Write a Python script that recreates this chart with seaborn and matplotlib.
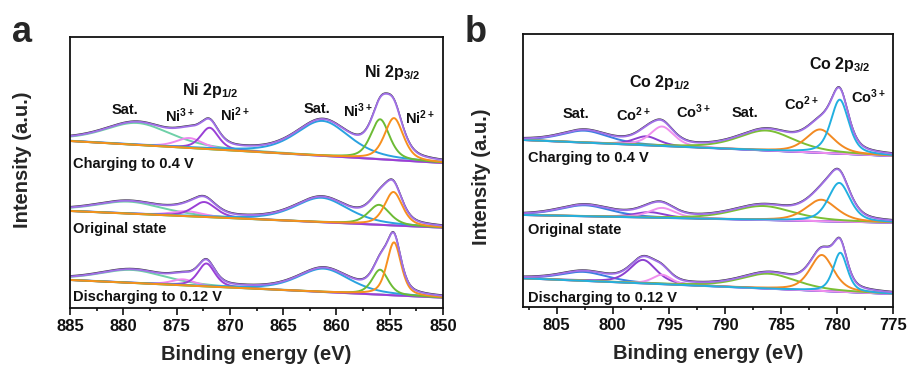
import numpy as np
import pandas as pd
import matplotlib
matplotlib.use("Agg")
import matplotlib.pyplot as plt
import seaborn as sns
from matplotlib.ticker import MultipleLocator

# ------------------------------------------------------------------ data
states = ["Charging to 0.4 V", "Original state", "Discharging to 0.12 V"]

# Ni 2p fit components (values per state: charging, original, discharging)
ni_names = ["Sat1", "Ni3+_12", "Ni2+_12", "Sat2", "Ni3+_32", "Ni2+_32"]
ni_center = {
    "Sat1":    [878.7, 879.5, 879.2],
    "Ni3+_12": [873.8, 874.0, 874.4],
    "Ni2+_12": [871.9, 872.4, 872.2],
    "Sat2":    [861.3, 861.4, 861.2],
    "Ni3+_32": [855.9, 856.0, 855.9],
    "Ni2+_32": [854.6, 854.65, 854.6],
}
ni_height = {
    "Sat1":    [22.0, 12.0, 13.0],
    "Ni3+_12": [10.0, 5.0, 6.0],
    "Ni2+_12": [21.5, 15.0, 23.0],
    "Sat2":    [35.0, 24.5, 23.4],
    "Ni3+_32": [40.0, 20.0, 25.0],
    "Ni2+_32": [42.0, 33.5, 53.0],
}
ni_fwhm = {
    "Sat1":    [7.5, 7.5, 7.5],
    "Ni3+_12": [3.0, 3.5, 2.6],
    "Ni2+_12": [2.0, 2.6, 1.9],
    "Sat2":    [6.0, 6.0, 5.8],
    "Ni3+_32": [2.1, 2.4, 1.8],
    "Ni2+_32": [2.1, 2.0, 1.6],
}
ni_bg_left = [167.0, 97.0, 28.0]    # background at 885 eV
ni_bg_right = [145.0, 80.3, 10.3]   # background at 850 eV

# Co 2p fit components
co_names = ["Sat1", "Co2+_12", "Co3+_12", "Sat2", "Co2+_32", "Co3+_32"]
co_center = {
    "Sat1":    [802.5, 802.5, 802.6],
    "Co2+_12": [797.0, 796.7, 797.3],
    "Co3+_12": [795.6, 795.6, 795.6],
    "Sat2":    [786.3, 786.6, 786.1],
    "Co2+_32": [781.5, 781.4, 781.35],
    "Co3+_32": [779.75, 779.8, 779.7],
}
co_height = {
    "Sat1":    [12.0, 11.0, 9.0],
    "Co2+_12": [9.0, 5.5, 23.5],
    "Co3+_12": [19.5, 10.0, 9.5],
    "Sat2":    [20.0, 14.0, 15.0],
    "Co2+_32": [23.4, 21.5, 36.0],
    "Co3+_32": [54.0, 38.7, 39.0],
}
co_fwhm = {
    "Sat1":    [5.0, 5.5, 5.0],
    "Co2+_12": [2.7, 3.3, 2.8],
    "Co3+_12": [2.5, 2.8, 2.0],
    "Sat2":    [6.0, 6.5, 6.0],
    "Co2+_32": [3.0, 3.3, 2.5],
    "Co3+_32": [1.9, 2.3, 1.5],
}
co_bg_left = [167.0, 92.0, 28.7]    # background at 808 eV
co_bg_right = [151.0, 84.3, 13.0]   # background at 775 eV

ni_ticks = [885, 880, 875, 870, 865, 860, 855, 850]
co_ticks = [805, 800, 795, 790, 785, 780, 775]

# ------------------------------------------------------------------ style
ni_colors = {"Sat1": "#6fd0a8", "Ni3+_12": "#ee88ee", "Ni2+_12": "#9a3fd6",
             "Sat2": "#2aa2e0", "Ni3+_32": "#6cbb35", "Ni2+_32": "#f7901e"}
ni_bg_color = "#6fd6c6"
co_colors = {"Sat1": "#3b7fe0", "Co2+_12": "#8c40d0", "Co3+_12": "#f090ee",
             "Sat2": "#7bbf35", "Co2+_32": "#f28a22", "Co3+_32": "#22b0e0"}
co_bg_color = "#3560e0"
env_color = "#a070e6"

sns.set_theme(style="ticks")
plt.rcParams["font.family"] = ["Liberation Sans", "DejaVu Sans"]
plt.rcParams["font.weight"] = "bold"
plt.rcParams["mathtext.fontset"] = "custom"
plt.rcParams["mathtext.bf"] = "Liberation Sans:bold"
plt.rcParams["mathtext.rm"] = "Liberation Sans:bold"
plt.rcParams["mathtext.default"] = "bf"


def pv(x, c, h, w, eta=0.5):
    d = (x - c) / w
    return h * (eta / (1 + 4 * d * d) + (1 - eta) * np.exp(-4 * np.log(2) * d * d))


fig = plt.figure(figsize=(9.10, 3.67), dpi=100)
ax_a = fig.add_axes([70 / 910, 59 / 367, 373 / 910, 271 / 367])
ax_b = fig.add_axes([523 / 910, 60 / 367, 370 / 910, 273 / 367])


def draw_panel(ax, e_hi, e_lo, names, center, height, fwhm, bgl, bgr, colors, bgc):
    x = np.linspace(e_hi, e_lo, 700)
    for s in range(3):
        bg = bgl[s] + (bgr[s] - bgl[s]) * (e_hi - x) / (e_hi - e_lo)
        env = bg.copy()
        comps = []
        for n in names:
            p = pv(x, center[n][s], height[n][s], fwhm[n][s])
            env = env + p
            comps.append((n, bg + p))
        sns.lineplot(x=x, y=bg, ax=ax, color=bgc, lw=1.4, sort=False)
        for n, yy in comps:
            sns.lineplot(x=x, y=yy, ax=ax, color=colors[n], lw=1.4, sort=False)
        sns.lineplot(x=x, y=env + 0.7, ax=ax, color="#333333", lw=1.0, sort=False)
        sns.lineplot(x=x, y=env, ax=ax, color=env_color, lw=1.4, sort=False)


draw_panel(ax_a, 885, 850, ni_names, ni_center, ni_height, ni_fwhm,
           ni_bg_left, ni_bg_right, ni_colors, ni_bg_color)
draw_panel(ax_b, 808, 775, co_names, co_center, co_height, co_fwhm,
           co_bg_left, co_bg_right, co_colors, co_bg_color)

ax_a.set_xlim(885, 850)
ax_a.set_ylim(0, 271)
ax_b.set_xlim(808, 775)
ax_b.set_ylim(0, 273)

for ax, ticks in ((ax_a, ni_ticks), (ax_b, co_ticks)):
    ax.set_xticks(ticks)
    ax.set_xticklabels([str(t) for t in ticks], fontsize=12, fontweight="bold")
    ax.xaxis.set_minor_locator(MultipleLocator(2.5))
    ax.tick_params(axis="x", which="major", direction="out", length=5, width=1.2, pad=3, colors="#111111")
    ax.tick_params(axis="x", which="minor", direction="out", length=2.5, width=1.2, colors="#111111")
    ax.set_yticks([])
    for sp in ax.spines.values():
        sp.set_linewidth(1.3)
        sp.set_color("#111111")
        sp.set_visible(True)
    ax.set_xlabel("Binding energy (eV)", fontsize=14.5, fontweight="bold", labelpad=8)
    ax.set_ylabel("Intensity (a.u.)", fontsize=14.5, fontweight="bold")

ax_a.yaxis.set_label_coords(-0.102, 0.546)
ax_b.yaxis.set_label_coords(-0.0865, 0.476)

lab_kw = dict(fontsize=10.5, fontweight="bold", ha="center", va="center", color="#111111")
big_kw = dict(fontsize=11.5, fontweight="bold", ha="center", va="center", color="#111111")
st_kw = dict(fontsize=10.5, fontweight="bold", ha="left", va="center", color="#111111")

# panel a annotations
ax_a.text(879.84, 198, "Sat.", **lab_kw)
ax_a.text(874.68, 192, "Ni$^{3+}$", **lab_kw)
ax_a.text(871.87, 217, "Ni 2p$_{1/2}$", **big_kw)
ax_a.text(869.52, 193, "Ni$^{2+}$", **lab_kw)
ax_a.text(861.83, 199, "Sat.", **lab_kw)
ax_a.text(857.98, 197, "Ni$^{3+}$", **lab_kw)
ax_a.text(854.79, 236, "Ni 2p$_{3/2}$", **big_kw)
ax_a.text(852.17, 190, "Ni$^{2+}$", **lab_kw)
for yy, s in zip([144, 79, 11], states):
    ax_a.text(884.7, yy, s, **st_kw)

# panel b annotations
ax_b.text(803.27, 193, "Sat.", **lab_kw)
ax_b.text(798.19, 192, "Co$^{2+}$", **lab_kw)
ax_b.text(795.78, 224, "Co 2p$_{1/2}$", **big_kw)
ax_b.text(792.83, 195, "Co$^{3+}$", **lab_kw)
ax_b.text(788.2, 194, "Sat.", **lab_kw)
ax_b.text(783.2, 203, "Co$^{2+}$", **lab_kw)
ax_b.text(779.72, 243, "Co 2p$_{3/2}$", **big_kw)
ax_b.text(777.22, 210, "Co$^{3+}$", **lab_kw)
for yy, s in zip([149, 77, 9], states):
    ax_b.text(807.55, yy, s, **st_kw)

fig.text(12 / 910, 1 - 42 / 367, "a", fontsize=26, fontweight="bold", ha="left", va="baseline")
fig.text(465 / 910, 1 - 42 / 367, "b", fontsize=26, fontweight="bold", ha="left", va="baseline")

fig.savefig("out.png", dpi=100, facecolor="white")
